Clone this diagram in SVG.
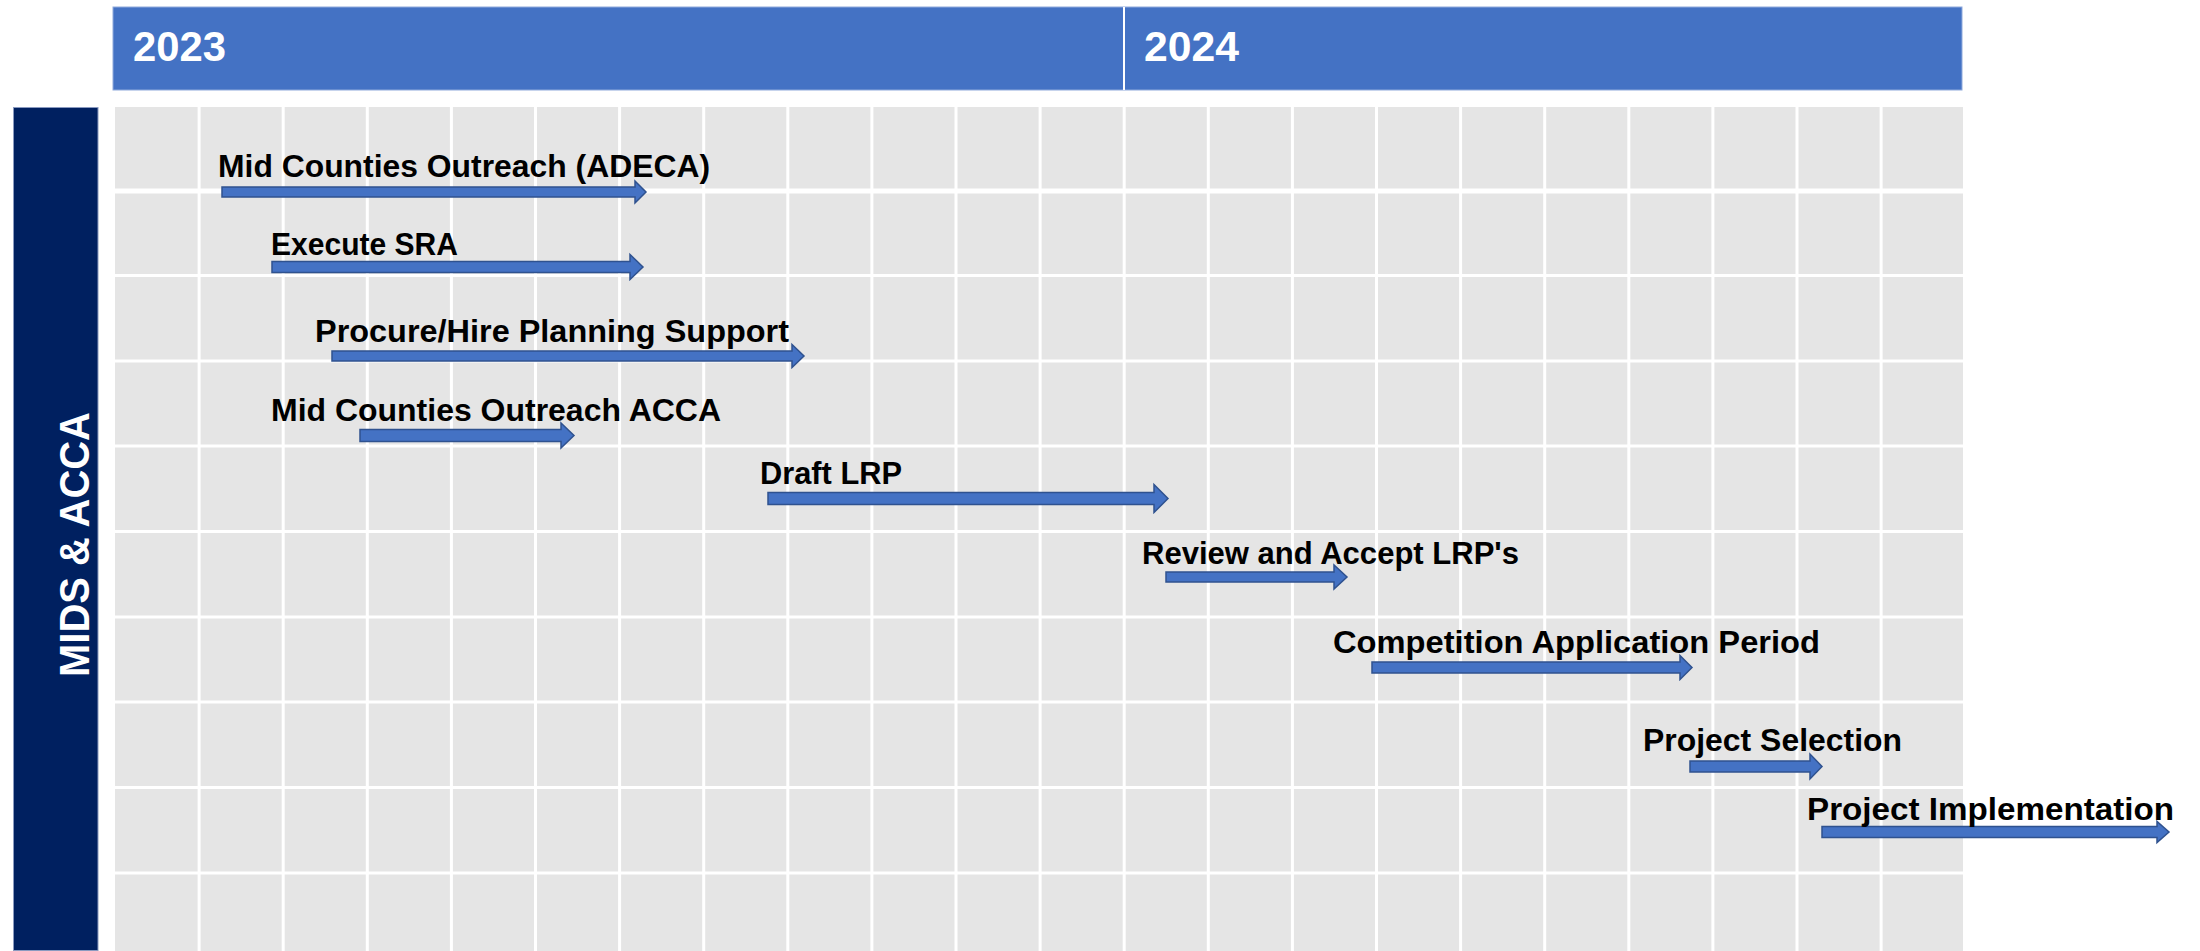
<svg xmlns="http://www.w3.org/2000/svg" width="2200" height="951" viewBox="0 0 2200 951">
<style>
.hdr{fill:#4472C4;stroke:#8FAADC;stroke-width:1}
.yr{font-family:"Liberation Sans",Arial,sans-serif;font-weight:bold;font-size:42px;fill:#FFFFFF}
.cell{fill:#E5E5E5}
.gl{stroke:#FFFFFF;stroke-width:3}
.bar{fill:#002060;stroke:#8A9AC0;stroke-width:1}
.side{font-family:"Liberation Sans",Arial,sans-serif;font-weight:bold;font-size:43px;fill:#FFFFFF}
.arr{fill:#4472C4;stroke:#2F528F;stroke-width:1.5;stroke-linejoin:miter}
.lbl{font-family:"Liberation Sans",Arial,sans-serif;font-weight:bold;font-size:32px;fill:#000000}
</style>
<rect width="2200" height="951" fill="#FFFFFF"/>
<g id="header">
  <rect class="hdr" x="113" y="7" width="1849" height="83"/>
  <line x1="1124" y1="7" x2="1124" y2="90" stroke="#FFFFFF" stroke-width="2"/>
  <text class="yr" x="133" y="61" textLength="93" lengthAdjust="spacingAndGlyphs">2023</text>
  <text class="yr" x="1144" y="61" textLength="95" lengthAdjust="spacingAndGlyphs">2024</text>
</g>
<g id="side-label">
  <rect class="bar" x="13.5" y="107.5" width="84.5" height="843"/>
  <text class="side" transform="translate(89,544.5) rotate(-90)" x="0" y="0" text-anchor="middle" textLength="265" lengthAdjust="spacingAndGlyphs">MIDS &amp; ACCA</text>
</g>
<g id="grid">
  <rect class="cell" x="115" y="107" width="1848" height="844"/>
  <g class="gl">
    <line x1="199.1" y1="107" x2="199.1" y2="951"/>
    <line x1="283.2" y1="107" x2="283.2" y2="951"/>
    <line x1="367.3" y1="107" x2="367.3" y2="951"/>
    <line x1="451.4" y1="107" x2="451.4" y2="951"/>
    <line x1="535.5" y1="107" x2="535.5" y2="951"/>
    <line x1="619.6" y1="107" x2="619.6" y2="951"/>
    <line x1="703.7" y1="107" x2="703.7" y2="951"/>
    <line x1="787.8" y1="107" x2="787.8" y2="951"/>
    <line x1="871.9" y1="107" x2="871.9" y2="951"/>
    <line x1="956" y1="107" x2="956" y2="951"/>
    <line x1="1040.1" y1="107" x2="1040.1" y2="951"/>
    <line x1="1124.2" y1="107" x2="1124.2" y2="951"/>
    <line x1="1208.3" y1="107" x2="1208.3" y2="951"/>
    <line x1="1292.4" y1="107" x2="1292.4" y2="951"/>
    <line x1="1376.5" y1="107" x2="1376.5" y2="951"/>
    <line x1="1460.6" y1="107" x2="1460.6" y2="951"/>
    <line x1="1544.7" y1="107" x2="1544.7" y2="951"/>
    <line x1="1628.8" y1="107" x2="1628.8" y2="951"/>
    <line x1="1712.9" y1="107" x2="1712.9" y2="951"/>
    <line x1="1797" y1="107" x2="1797" y2="951"/>
    <line x1="1881.1" y1="107" x2="1881.1" y2="951"/>
    <line x1="115" y1="191" x2="1963" y2="191" stroke-width="5"/>
    <line x1="115" y1="275.5" x2="1963" y2="275.5"/>
    <line x1="115" y1="361" x2="1963" y2="361"/>
    <line x1="115" y1="446" x2="1963" y2="446"/>
    <line x1="115" y1="531.5" x2="1963" y2="531.5"/>
    <line x1="115" y1="617" x2="1963" y2="617"/>
    <line x1="115" y1="702" x2="1963" y2="702"/>
    <line x1="115" y1="787.5" x2="1963" y2="787.5"/>
    <line x1="115" y1="873" x2="1963" y2="873"/>
  </g>
</g>
<g id="tasks">
  <g id="task-mid-counties-adeca">
    <polygon class="arr" points="222,187 635,187 635,181 646,192 635,203 635,197 222,197"/>
    <text class="lbl" x="218" y="177" textLength="492" lengthAdjust="spacingAndGlyphs">Mid Counties Outreach (ADECA)</text>
  </g>
  <g id="task-execute-sra">
    <polygon class="arr" points="272,261.5 630,261.5 630,254.5 643,267 630,279.5 630,272.5 272,272.5"/>
    <text class="lbl" x="271" y="255" textLength="187" lengthAdjust="spacingAndGlyphs">Execute SRA</text>
  </g>
  <g id="task-procure-hire">
    <polygon class="arr" points="332,351 792,351 792,344.5 804,356 792,367.5 792,361 332,361"/>
    <text class="lbl" x="315" y="342" textLength="474" lengthAdjust="spacingAndGlyphs">Procure/Hire Planning Support</text>
  </g>
  <g id="task-mid-counties-acca">
    <polygon class="arr" points="360,429.5 561,429.5 561,423 574,435.5 561,448 561,441.5 360,441.5"/>
    <text class="lbl" x="271" y="421" textLength="450" lengthAdjust="spacingAndGlyphs">Mid Counties Outreach ACCA</text>
  </g>
  <g id="task-draft-lrp">
    <polygon class="arr" points="768,492.5 1154,492.5 1154,484.5 1168,498.5 1154,512.5 1154,504.5 768,504.5"/>
    <text class="lbl" x="760" y="484" textLength="142" lengthAdjust="spacingAndGlyphs">Draft LRP</text>
  </g>
  <g id="task-review-accept">
    <polygon class="arr" points="1166,572 1334,572 1334,565 1347,577 1334,589 1334,582 1166,582"/>
    <text class="lbl" x="1142" y="564" textLength="377" lengthAdjust="spacingAndGlyphs">Review and Accept LRP's</text>
  </g>
  <g id="task-competition">
    <polygon class="arr" points="1372,662 1680,662 1680,655.5 1692,667.5 1680,679.5 1680,673 1372,673"/>
    <text class="lbl" x="1333" y="653" textLength="487" lengthAdjust="spacingAndGlyphs">Competition Application Period</text>
  </g>
  <g id="task-project-selection">
    <polygon class="arr" points="1690,761 1810,761 1810,754 1822,766.5 1810,779 1810,772 1690,772"/>
    <text class="lbl" x="1643" y="751" textLength="259" lengthAdjust="spacingAndGlyphs">Project Selection</text>
  </g>
  <g id="task-project-implementation">
    <polygon class="arr" points="1822,826.5 2157,826.5 2157,821.5 2169,832 2157,842.5 2157,837.5 1822,837.5"/>
    <text class="lbl" x="1807" y="820" textLength="367" lengthAdjust="spacingAndGlyphs">Project Implementation</text>
  </g>
</g>
</svg>
